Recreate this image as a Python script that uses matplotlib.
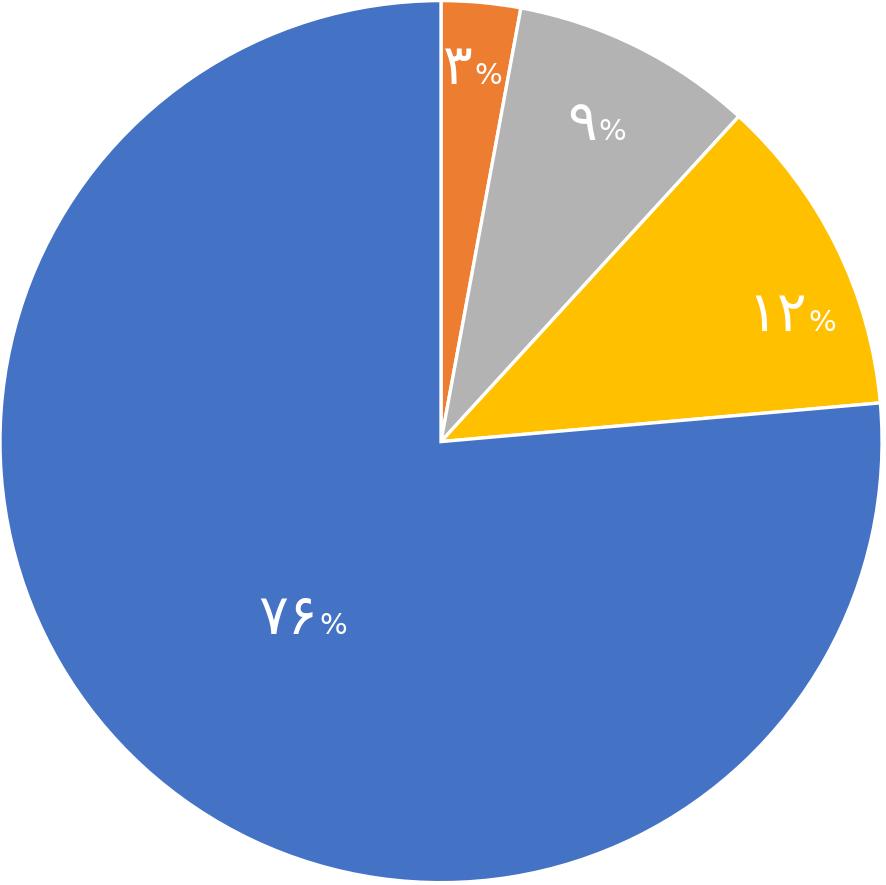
import matplotlib
matplotlib.use("Agg")
import matplotlib.pyplot as plt
import numpy as np
from matplotlib.offsetbox import TextArea, HPacker, AnnotationBbox

# Data (clockwise from 12 o'clock), shares read from the slice boundaries
values = [2.9, 8.9, 11.8, 76.4]
digit_labels = ["۳", "۹", "۱۲", "۷۶"]
colors = ["#ED7D31", "#B3B3B3", "#FFC000", "#4472C4"]
# label placement style: radius fraction and angle shift (deg) from slice middle
label_radii = [0.848, 0.80, 0.845, 0.51]
label_shift = [0.4, 0.2, -6.6, 4.5]

fig = plt.figure(figsize=(8.86, 8.85), dpi=100)
ax = fig.add_axes([0, 0, 1, 1])
wedges, _ = ax.pie(values, colors=colors, startangle=90, counterclock=False,
                   radius=1.0, center=(0, 0),
                   wedgeprops=dict(edgecolor="white", linewidth=2.4))
ax.set_xlim(-1.0, 1.009)
ax.set_ylim(-1.005, 1.001)
ax.set_aspect("equal")
ax.axis("off")

total = sum(values)
cum = 0
for v, lab, r, s in zip(values, digit_labels, label_radii, label_shift):
    mid = 90 - (cum + v / 2) / total * 360 + s
    cum += v
    x = r * np.cos(np.radians(mid))
    y = r * np.sin(np.radians(mid))
    d = TextArea(lab, textprops=dict(color="white", fontsize=40, family=["DejaVu Sans"]))
    p = TextArea("%", textprops=dict(color="white", fontsize=21, family=["DejaVu Sans"]))
    box = HPacker(children=[d, p], align="baseline", pad=0, sep=1)
    ab = AnnotationBbox(box, (x, y), frameon=False, box_alignment=(0.5, 0.5))
    ax.add_artist(ab)

fig.savefig("out.png", dpi=100)
